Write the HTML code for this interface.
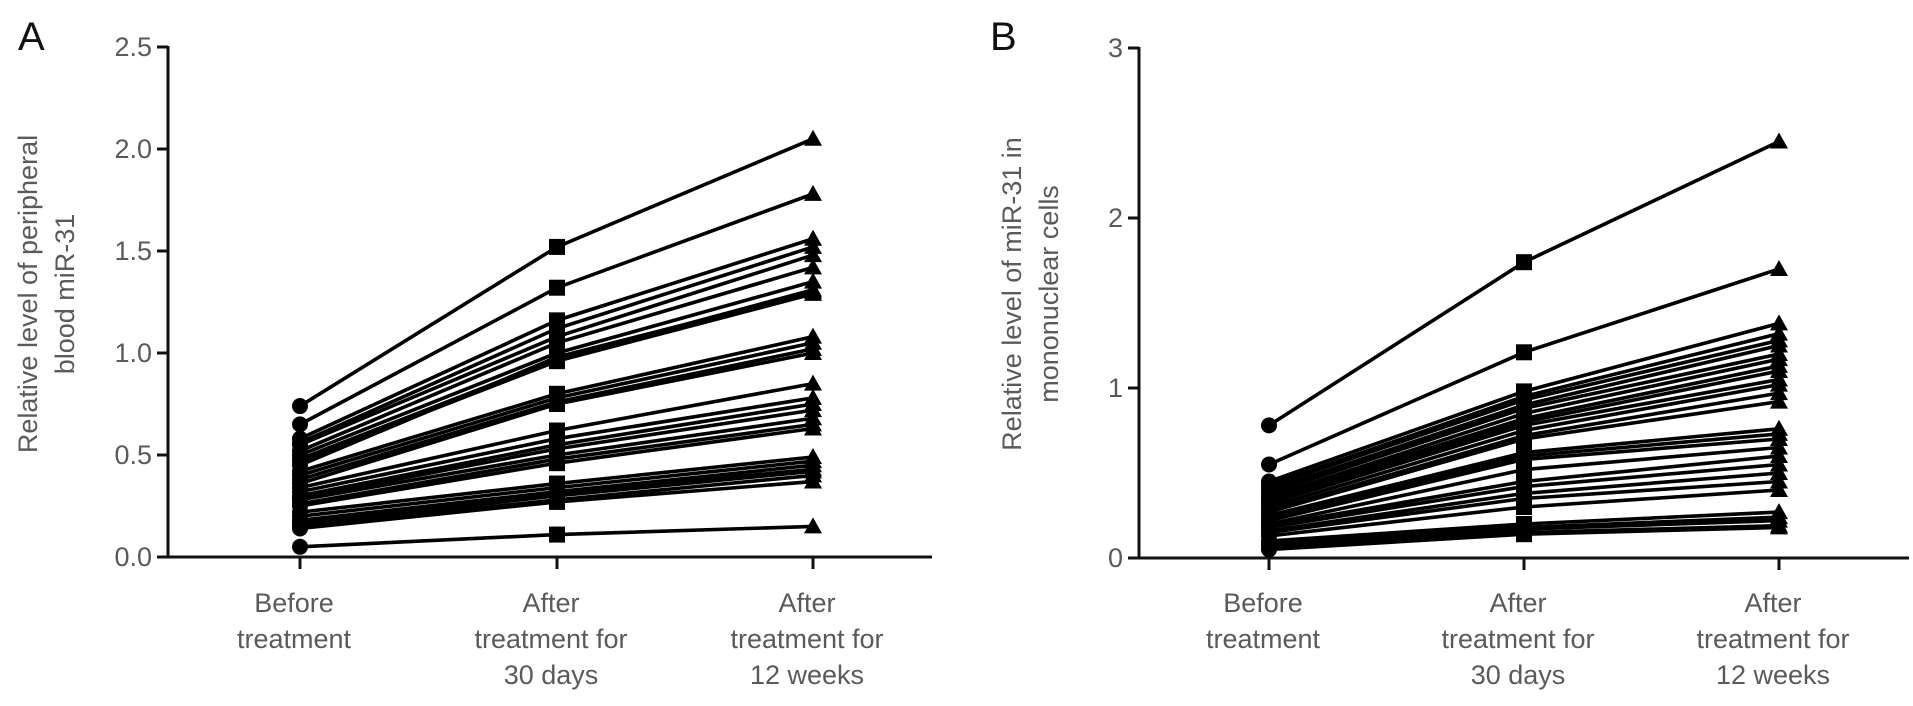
<!DOCTYPE html>
<html><head><meta charset="utf-8"><style>
html,body{margin:0;padding:0;background:#fff;}
svg{display:block;font-family:"Liberation Sans",sans-serif;}
</style></head><body>
<svg id="chart" width="1913" height="706" viewBox="0 0 1913 706" xmlns="http://www.w3.org/2000/svg"></svg>
<script>
const categories = ["Before treatment","After treatment for 30 days","After treatment for 12 weeks"];
const catLines = [["Before","treatment"],["After","treatment for","30 days"],["After","treatment for","12 weeks"]];
const ticksA = [0,0.5,1.0,1.5,2.0,2.5];
const tickLabelsA = ["0.0","0.5","1.0","1.5","2.0","2.5"];
const ticksB = [0,1,2,3];
const tickLabelsB = ["0","1","2","3"];
const beforeA = [0.74,0.65,0.58,0.56,0.55,0.52,0.50,0.48,0.47,0.45,0.42,0.40,0.38,0.36,0.34,0.32,0.30,0.29,0.28,0.26,0.25,0.22,0.20,0.18,0.17,0.16,0.15,0.14,0.05];
const day30A  = [1.52,1.32,1.16,1.12,1.08,1.05,1.00,0.97,0.96,0.98,0.80,0.78,0.76,0.75,0.62,0.58,0.55,0.53,0.50,0.48,0.46,0.36,0.34,0.32,0.31,0.30,0.28,0.27,0.11];
const week12A = [2.05,1.78,1.56,1.52,1.48,1.42,1.35,1.31,1.29,1.30,1.08,1.05,1.02,1.00,0.85,0.78,0.75,0.72,0.68,0.65,0.63,0.49,0.47,0.45,0.43,0.42,0.40,0.37,0.15];
const beforeB = [0.78,0.55,0.45,0.43,0.42,0.40,0.38,0.36,0.35,0.33,0.32,0.30,0.28,0.27,0.25,0.24,0.22,0.20,0.19,0.18,0.16,0.15,0.13,0.10,0.09,0.08,0.07,0.05];
const day30B  = [1.74,1.21,0.98,0.95,0.93,0.90,0.88,0.85,0.82,0.80,0.78,0.75,0.72,0.70,0.62,0.60,0.58,0.52,0.45,0.42,0.38,0.35,0.30,0.20,0.18,0.17,0.15,0.14];
const week12B = [2.45,1.70,1.38,1.32,1.28,1.25,1.20,1.17,1.13,1.10,1.05,1.02,0.97,0.92,0.76,0.73,0.70,0.65,0.60,0.55,0.50,0.45,0.40,0.27,0.24,0.22,0.19,0.18];

const NS="http://www.w3.org/2000/svg";
const svg=document.getElementById('chart');
function mk(tag,attrs,parent){const e=document.createElementNS(NS,tag);for(const k in attrs)e.setAttribute(k,attrs[k]);(parent||svg).appendChild(e);return e;}

function panel(cfg){
  const g=mk('g',{});
  
  
  const y=v=>cfg.y0-(v-0)/(cfg.ymax)*(cfg.y0-cfg.ytop);
  const x=i=>cfg.cx[i];
  const L=mk('text',{x:cfg.letterX,y:50,'font-size':40,fill:'#111'},g);L.textContent=cfg.letter;
  
  
  const tt=mk('text',{transform:`translate(${cfg.titleX},294) rotate(-90)`,'text-anchor':'middle','font-size':27,fill:'#5a5a5a'},g);
  
  
  cfg.title.forEach((t,i)=>{const s=mk('tspan',{x:0,dy:i?37:0},tt);s.textContent=t;});
  const ya=mk('line',{x1:cfg.ax,y1:cfg.ytop-1,x2:cfg.ax,y2:cfg.y0+1.5,stroke:'#111','stroke-width':3},g);
  
  
  const xa=mk('line',{x1:cfg.ax-1.5,y1:cfg.y0,x2:cfg.xend,y2:cfg.y0,stroke:'#111','stroke-width':3},g);
  
  
  cfg.ticks.forEach((v,i)=>{
    mk('line',{x1:cfg.ax-11,y1:y(v),x2:cfg.ax,y2:y(v),stroke:'#111','stroke-width':3},g);
    const t=mk('text',{x:cfg.ax-16,y:y(v)+9,'text-anchor':'end','font-size':27,fill:'#5a5a5a'},g);
    t.textContent=cfg.tickLabels[i];
    
    
  });
  categories.forEach((c,i)=>{
    mk('line',{x1:x(i),y1:cfg.y0,x2:x(i),y2:cfg.y0+12,stroke:'#111','stroke-width':3},g);
    const t=mk('text',{'text-anchor':'middle','font-size':27,fill:'#5a5a5a'},g);
    
    
    catLines[i].forEach((ln,j)=>{const s=mk('tspan',{x:x(i)-6,y:612+j*36},t);s.textContent=ln;});
  });
  for(let k=0;k<cfg.s0.length;k++){
    const vals=[cfg.s0[k],cfg.s1[k],cfg.s2[k]];
    const sg=mk('g',{},g);
    
    
    mk('polyline',{points:vals.map((v,i)=>x(i)+','+y(v)).join(' '),fill:'none',stroke:'#000','stroke-width':3.6},sg);
    mk('circle',{cx:x(0),cy:y(vals[0]),r:8,fill:'#000'},sg);
    mk('rect',{x:x(1)-8,y:y(vals[1])-8,width:16,height:16,fill:'#000'},sg);
    const tx=x(2),ty=y(vals[2]);
    mk('polygon',{points:`${tx-9},${ty+7} ${tx+9},${ty+7} ${tx},${ty-9}`,fill:'#000'},sg);
  }
}
panel({name:'panel-a',letter:'A',letterX:18,title:['Relative level of peripheral','blood miR-31'],titleX:37,
  ax:168,y0:557,ytop:47,ymax:2.5,xend:932,cx:[300,557,813],ticks:ticksA,tickLabels:tickLabelsA,
  s0:beforeA,s1:day30A,s2:week12A});
panel({name:'panel-b',letter:'B',letterX:990,title:['Relative level of miR-31 in','mononuclear cells'],titleX:1021,
  ax:1139,y0:558,ytop:48,ymax:3,xend:1909,cx:[1269,1524,1779],ticks:ticksB,tickLabels:tickLabelsB,
  s0:beforeB,s1:day30B,s2:week12B});
</script>
</body></html>
